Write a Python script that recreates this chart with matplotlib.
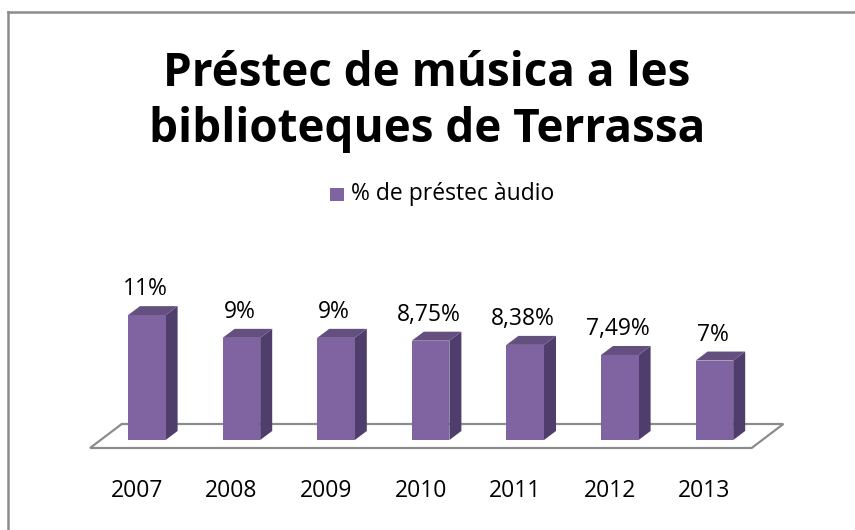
import matplotlib
matplotlib.use("Agg")
import matplotlib.pyplot as plt
from matplotlib.patches import Polygon
from matplotlib.lines import Line2D

# ----------------------------------------------------------------------
# Data
# ----------------------------------------------------------------------
years = ["2007", "2008", "2009", "2010", "2011", "2012", "2013"]
values = [11, 9, 9, 8.75, 8.38, 7.49, 7]
value_labels = ["11%", "9%", "9%", "8,75%", "8,38%", "7,49%", "7%"]
series_name = "% de préstec àudio"
title = "Préstec de música a les\nbiblioteques de Terrassa"

FRONT = "#8064A2"
SIDE = "#4F3D6B"
TOP = "#63507F"
FLOOR = "#8C8C8C"
FONT = ["Open Sans", "DejaVu Sans"]

W, H, DPI = 855, 530, 100
PX_X = 94.6    # pixels per category
PX_Y = 11.35   # pixels per percentage point
X0, Y0 = 146.8, 440.0   # pixel of category 0 centre / value 0

fig = plt.figure(figsize=(W / DPI, H / DPI), dpi=DPI)
ax = fig.add_axes([0, 0, 1, 1])
ax.set_xlim(-X0 / PX_X, (W - X0) / PX_X)
ax.set_ylim(-(H - Y0) / PX_Y, Y0 / PX_Y)
ax.axis("off")

bw = 37.6 / PX_X        # bar width
dx = 12.0 / PX_X        # depth offset
dy = 9.0 / PX_Y

# floor (parallelogram)
f_front = -8.0 / PX_Y
f_back = 16.0 / PX_Y
floor = Polygon([(-0.600, f_front), (6.394, f_front), (6.729, f_back), (-0.265, f_back)],
                closed=True, facecolor="white", edgecolor=FLOOR, lw=1.6, zorder=1)
ax.add_patch(floor)

for i, (v, lab, yr) in enumerate(zip(values, value_labels, years)):
    x = i - bw / 2
    ax.add_patch(Polygon([(x + bw, 0), (x + bw + dx, dy), (x + bw + dx, v + dy), (x + bw, v)],
                         closed=True, facecolor=SIDE, edgecolor="none", zorder=2))
    ax.add_patch(Polygon([(x, v), (x + bw, v), (x + bw + dx, v + dy), (x + dx, v + dy)],
                         closed=True, facecolor=TOP, edgecolor="none", zorder=2))
    ax.add_patch(Polygon([(x, 0), (x + bw, 0), (x + bw, v), (x, v)],
                         closed=True, facecolor=FRONT, edgecolor="none", zorder=3))
    ax.text(i - 0.02, v + dy + 17 / PX_Y, lab, ha="center", va="center",
            fontsize=16.5, family=FONT, color="black")
    ax.text(i - 0.106, -51 / PX_Y, yr, ha="center", va="center",
            fontsize=16.5, family=FONT, color="black")

# title and legend (figure coordinates)
fig.text(427 / W, 1 - 101 / H, title, ha="center", va="center", fontsize=33,
         fontweight="bold", family=FONT, linespacing=1.25)
fig.patches.append(plt.Rectangle((330 / W, 1 - 201 / H), 14 / W, 13 / H,
                                 transform=fig.transFigure, facecolor=FRONT,
                                 edgecolor="none"))
fig.text(351 / W, 1 - 194 / H, series_name, ha="left", va="center",
         fontsize=16.5, family=FONT)

# chart border (only top and left visible)
fig.lines.append(Line2D([8 / W, 1], [1 - 12 / H, 1 - 12 / H], transform=fig.transFigure,
                        color=FLOOR, lw=1.8))
fig.lines.append(Line2D([8 / W, 8 / W], [0, 1 - 12 / H], transform=fig.transFigure,
                        color=FLOOR, lw=1.8))

fig.savefig("out.png", dpi=DPI)
